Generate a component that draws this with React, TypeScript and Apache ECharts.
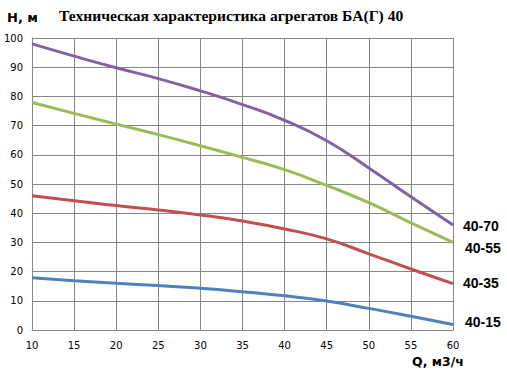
import React, { useEffect, useRef } from "react";
import * as echarts from "echarts";

const flow = [10, 15, 20, 25, 30, 35, 40, 45, 50, 55, 60];
const head4070 = [98, 93.8, 89.8, 86.1, 81.9, 77.2, 71.8, 64.8, 55.5, 45.6, 36];
const head4055 = [77.9, 74.2, 70.5, 66.9, 63.1, 59.1, 54.9, 49.5, 43.6, 36.7, 30];
const head4035 = [46, 44.3, 42.6, 41.1, 39.4, 37.3, 34.6, 31.2, 26.1, 20.9, 15.9];
const head4015 = [17.9, 16.9, 16, 15.2, 14.3, 13.1, 11.7, 9.9, 7.4, 4.7, 1.9];

const seriesNames = ["40-70", "40-55", "40-35", "40-15"];
const seriesData = [head4070, head4055, head4035, head4015];
const colors = ["#8064A2", "#9BBB59", "#C0504D", "#4F81BD"];
const labelPos = [
  [463, 226],
  [465, 248],
  [463, 283],
  [465, 322],
];

export default function App() {
  const ref = useRef<HTMLDivElement>(null);
  useEffect(() => {
    if (!ref.current) return;
    const chart = echarts.init(ref.current, undefined, { renderer: "svg" });
    const gridColor = "#868686";
    chart.setOption({
      animation: false,
      backgroundColor: "#fff",
      grid: { left: 32, right: 54, top: 38, bottom: 47, containLabel: false },
      xAxis: {
        type: "value",
        min: 10,
        max: 60,
        interval: 5,
        axisLine: { show: true, lineStyle: { color: gridColor, width: 1 } },
        axisTick: { show: false },
        splitLine: { show: true, lineStyle: { color: gridColor, width: 1 } },
        axisLabel: { color: "#000", fontSize: 10, fontFamily: "DejaVu Sans", margin: 10 },
      },
      yAxis: {
        type: "value",
        min: 0,
        max: 100,
        interval: 10,
        axisLine: { show: true, lineStyle: { color: gridColor, width: 1 } },
        axisTick: { show: false },
        splitLine: { show: true, lineStyle: { color: gridColor, width: 1 } },
        axisLabel: { color: "#000", fontSize: 10, fontFamily: "DejaVu Sans", margin: 9 },
      },
      series: seriesData.map((d, i) => ({
        name: seriesNames[i],
        type: "line",
        smooth: true,
        symbol: "none",
        data: flow.map((q, j) => [q, d[j]]),
        lineStyle: { color: colors[i], width: 3 },
        itemStyle: { color: colors[i] },
      })),
      graphic: [
        {
          type: "text",
          left: 7,
          top: 11,
          style: { text: "H, м", fontSize: 13, fontWeight: "bold", fontFamily: "DejaVu Sans", fill: "#000" },
        },
        {
          type: "text",
          left: 59,
          top: 7,
          style: {
            text: "Техническая характеристика агрегатов БА(Г) 40",
            fontSize: 15.6,
            fontWeight: "bold",
            fontFamily: "Liberation Serif",
            fill: "#000",
          },
        },
        {
          type: "text",
          left: 412,
          top: 355,
          style: { text: "Q, м3/ч", fontSize: 12.5, fontWeight: "bold", fontFamily: "DejaVu Sans", fill: "#000" },
        },
        ...seriesNames.map((n, i) => ({
          type: "text",
          x: labelPos[i][0],
          y: labelPos[i][1],
          style: {
            text: n,
            fontSize: 14,
            fontWeight: "bold",
            fontFamily: "Liberation Sans",
            fill: "#000",
            verticalAlign: "middle",
          },
        })),
      ],
    });
    return () => chart.dispose();
  }, []);
  return <div ref={ref} style={{ width: 507, height: 377, position: "absolute", left: 0, top: 0 }} />;
}
